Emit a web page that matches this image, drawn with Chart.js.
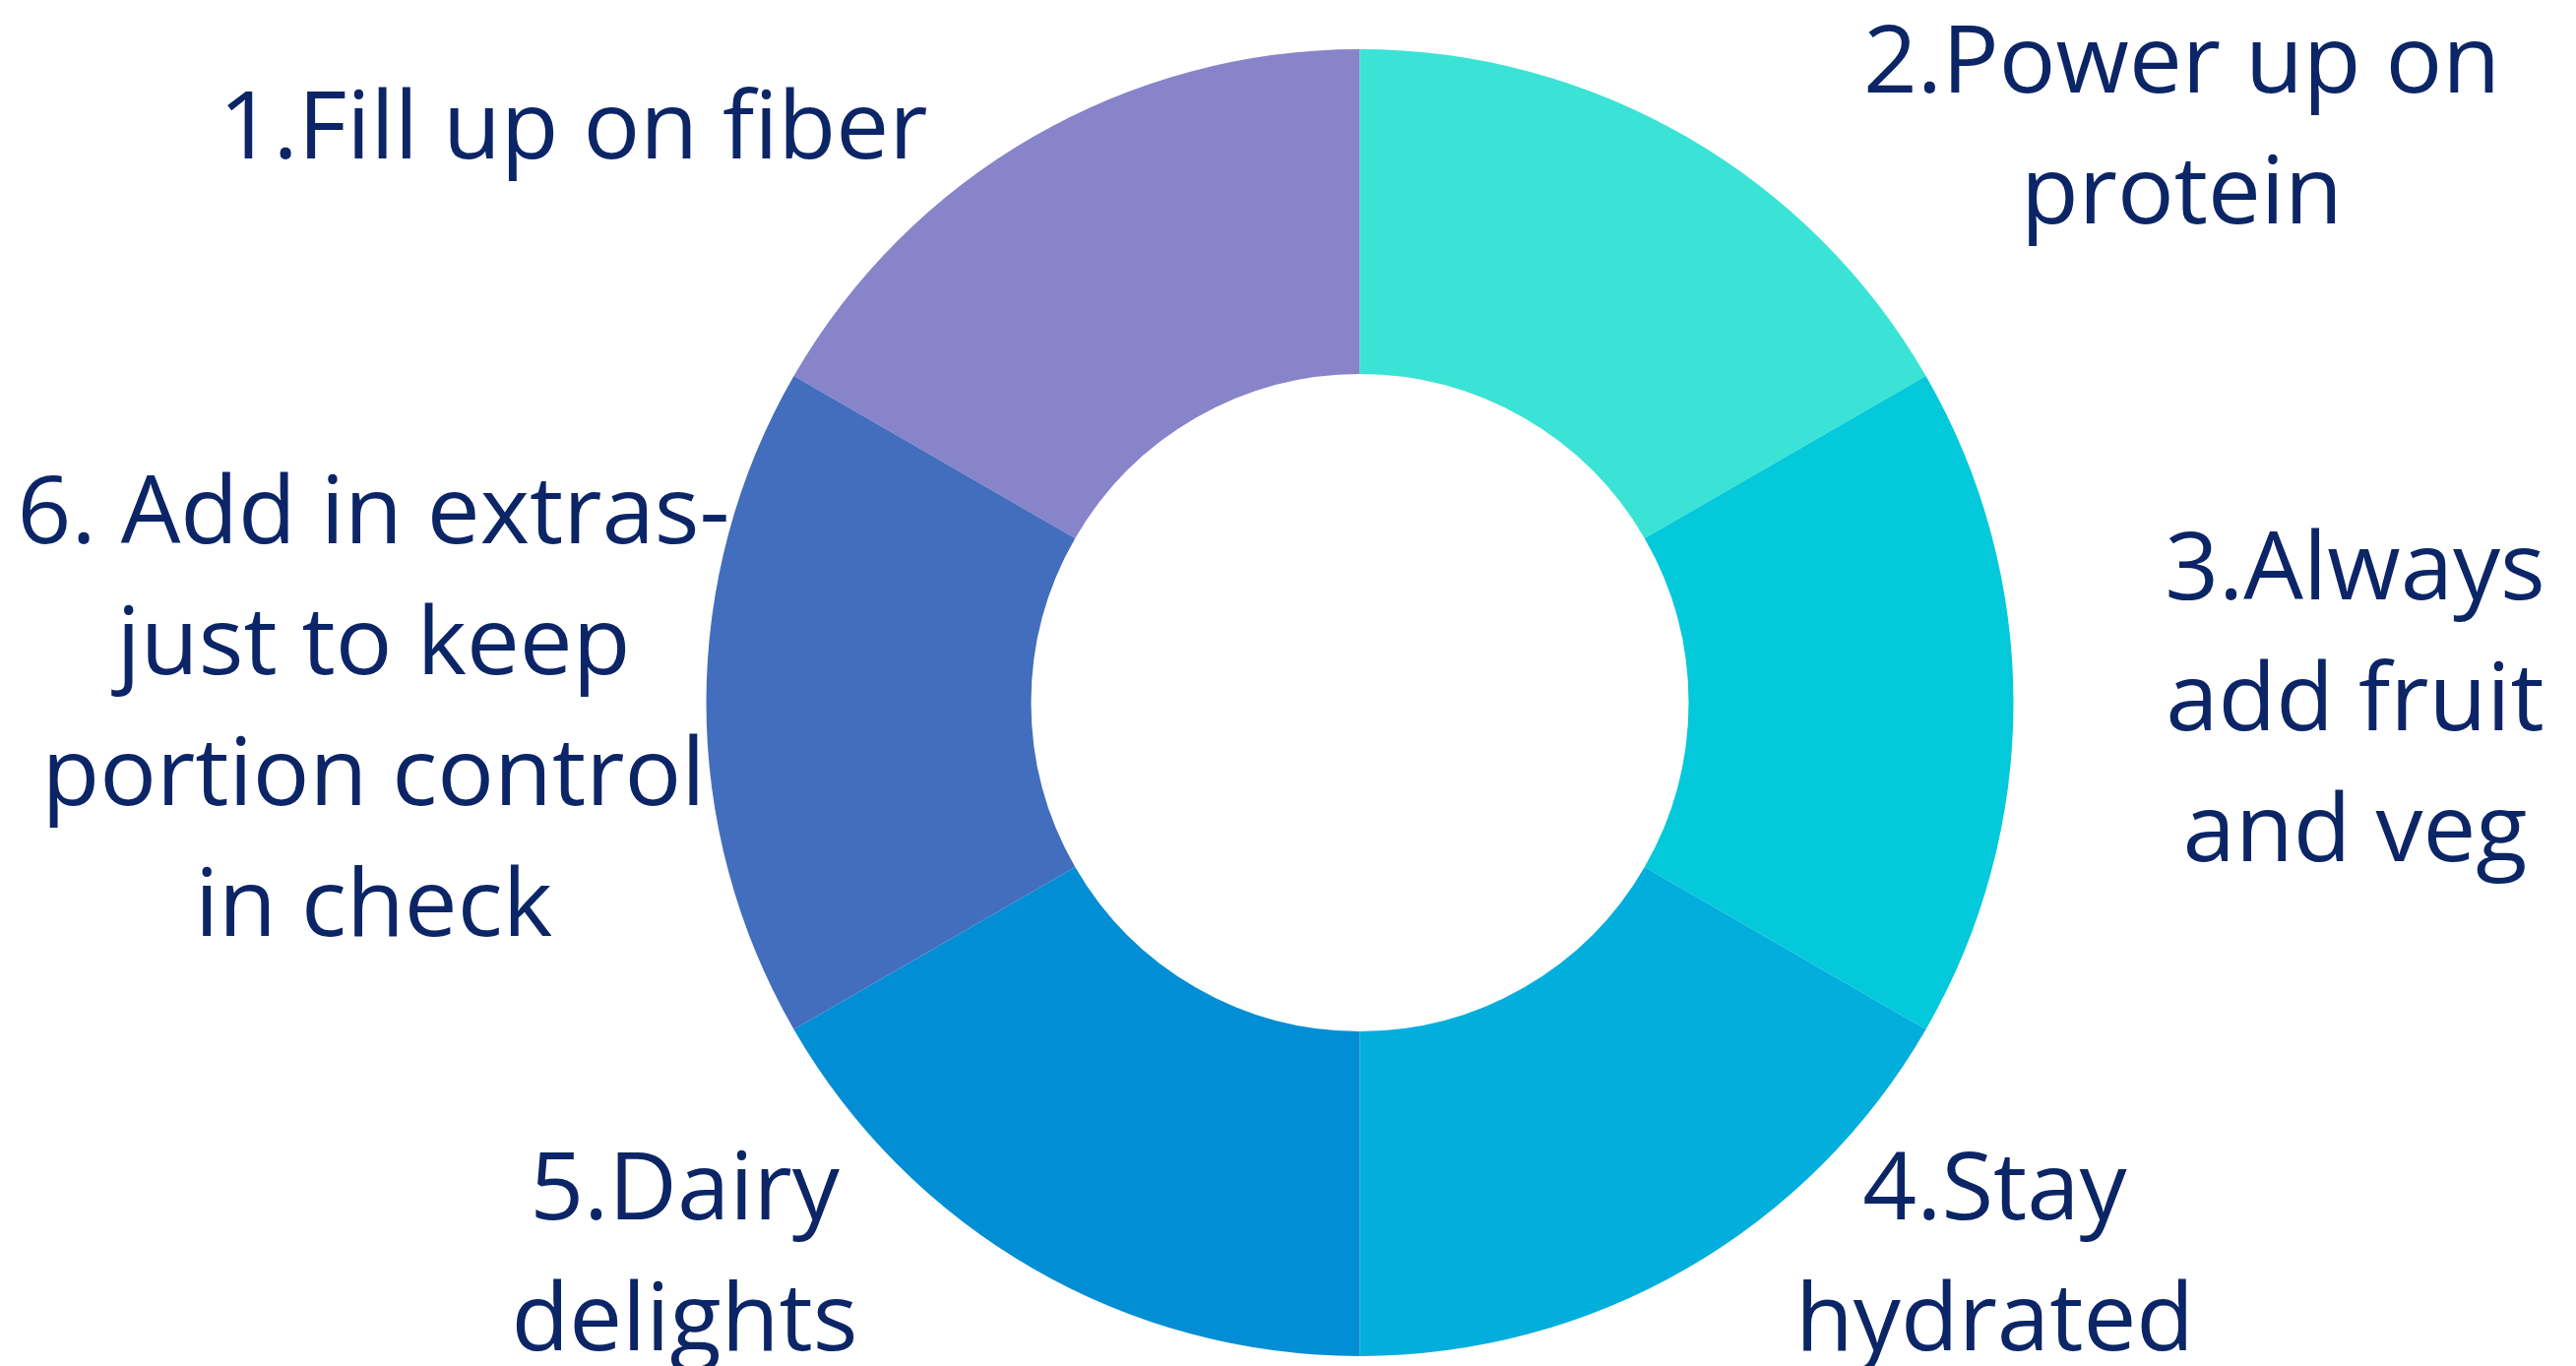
<!DOCTYPE html>
<html>
<head>
<meta charset="utf-8">
<script src="https://cdn.jsdelivr.net/npm/chart.js@4/dist/chart.umd.min.js"></script>
<style>
html,body{margin:0;padding:0;background:#fff;}
#wrap{position:relative;width:2617px;height:1388px;}
</style>
</head>
<body>
<div id="wrap"><canvas id="c" width="2617" height="1388"></canvas></div>
<script>
const categories = [
  ["1.Fill up on fiber"],
  ["2.Power up on", "protein"],
  ["3.Always", "add fruit", "and veg"],
  ["4.Stay", "hydrated"],
  ["5.Dairy", "delights"],
  ["6. Add in extras-", "just to keep", "portion control", "in check"]
];
const values = [1, 1, 1, 1, 1, 1];
const colors = ["#8884CA", "#3AE3D5", "#03C9DB", "#02AEDC", "#028ED4", "#436EBD"];
// label anchor offsets (relative to doughnut centre, in pixels): centre x, first baseline y
const labelOffsets = [
  [-799, -553],
  [835, -620],
  [1011, -105],
  [645, 525],
  [-686, 525],
  [-1002, -162]
];

const textColor = "#0B2566";
const fontSize = 96;
const lineHeight = 133;

const labelPlugin = {
  id: 'outerLabels',
  afterDraw(chart) {
    const ctx = chart.ctx;
    const meta = chart.getDatasetMeta(0);
    const arc = meta.data[0];
    const cx = arc.x, cy = arc.y;
    ctx.save();
    ctx.fillStyle = textColor;
    ctx.font = fontSize + 'px "Open Sans"';
    ctx.textAlign = 'center';
    ctx.textBaseline = 'alphabetic';
    categories.forEach((lines, i) => {
      const [ox, oy] = labelOffsets[i];
      lines.forEach((ln, j) => {
        ctx.fillText(ln, cx + ox, cy + oy + j * lineHeight);
      });
    });
    ctx.restore();
  }
};

new Chart(document.getElementById('c'), {
  type: 'doughnut',
  data: {
    labels: categories.map(l => l.join(' ')),
    datasets: [{
      data: values,
      backgroundColor: colors,
      borderWidth: 0,
      hoverOffset: 0
    }]
  },
  options: {
    responsive: false,
    animation: false,
    rotation: -60,
    cutout: '50.3%',
    layout: { padding: { left: 717, right: 571, top: 50, bottom: 10 } },
    plugins: {
      legend: { display: false },
      tooltip: { enabled: false }
    },
    events: []
  },
  plugins: [labelPlugin]
});
</script>
</body>
</html>
